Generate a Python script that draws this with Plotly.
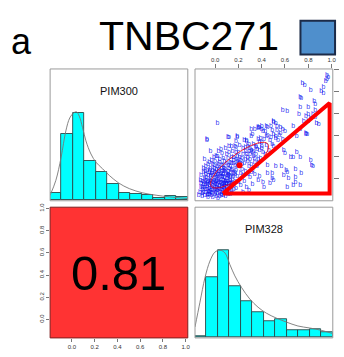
import plotly.graph_objects as go
import numpy as np

# ---------------- data ----------------
title_text = "TNBC271"
panel_letter = "a"
var_names = ["PIM300", "PIM328"]
correlation = 0.81

# histogram bar heights (12 equal bins across each diagonal panel)
pim300_counts = [20, 198, 264, 118, 85, 46, 21, 16, 14, 5, 10, 7]
pim328_counts = [4, 182, 264, 157, 111, 77, 51, 57, 23, 23, 26, 15]

# density curves (bin units, same height units as bars)
pim300_dens_u = [0, 0.5, 0.96, 1.37, 1.72, 2.1, 2.3, 2.54, 2.83, 3.12, 3.56, 4.0, 4.58, 5.16, 5.98, 6.9, 8.08, 9.24, 10.4, 12]
pim300_dens_h = [13, 58, 128, 208, 248, 264, 266, 253, 218, 178, 138, 113, 93, 73, 50, 33, 20, 13, 8, 3]
pim328_dens_u = [0, 0.43, 0.87, 1.3, 1.73, 2.17, 2.6, 3.03, 3.47, 4.05, 4.77, 5.49, 6.21, 7.08, 7.95, 8.96, 9.97, 10.98, 12]
pim328_dens_h = [32, 107, 182, 232, 259, 265, 257, 222, 187, 152, 117, 92, 74, 59, 47, 35, 29, 22, 12]

# scatter points (PIM328, PIM300)
scatter_points = [
    # upper right tail
    (0.96, 0.95), (0.97, 0.93), (0.96, 0.91), (0.95, 0.89), (0.75, 0.87), (0.77, 0.86), (0.82, 0.81),
    (0.93, 0.84), (0.91, 0.80), (0.93, 0.78), (0.74, 0.74), (0.73, 0.75), (0.85, 0.71), (0.86, 0.68),
    (0.58, 0.63), (0.62, 0.62), (0.73, 0.65), (0.80, 0.65), (0.86, 0.63), (0.72, 0.59), (0.78, 0.57),
    (0.84, 0.59), (0.86, 0.56), (0.80, 0.53), (0.87, 0.51), (0.80, 0.59), (0.82, 0.55), (0.89, 0.50),
    (0.76, 0.53), (0.50, 0.52), (0.52, 0.51), (0.56, 0.47), (0.53, 0.48), (0.45, 0.47), (0.48, 0.48),
    (0.58, 0.45), (0.43, 0.43), (0.67, 0.48), (0.60, 0.43), (0.78, 0.42), (0.73, 0.45), (0.02, 0.51),
    (0.31, 0.45), (0.37, 0.46), (0.40, 0.48), (0.41, 0.43), (0.37, 0.47), (0.44, 0.48), (0.50, 0.53),
    (0.70, 0.39), (0.79, 0.41), (0.78, 0.41), (0.40, 0.45), (0.49, 0.44), (0.52, 0.39), (0.44, 0.39),
    (0.34, 0.45), (0.32, 0.41), (0.37, 0.36), (0.29, 0.32), (0.54, 0.35), (0.40, 0.30), (0.38, 0.47),
    # upper band above cluster
    (-0.07, 0.35), (-0.07, 0.36), (0.11, 0.38), (0.12, 0.38), (0.19, 0.38), (0.19, 0.39), (0.27, 0.35),
    (0.31, 0.39), (0.12, 0.30), (0.18, 0.29), (0.26, 0.29), (0.01, 0.21), (0.58, 0.36), (0.48, 0.38),
    (0.50, 0.30),
    # along hypotenuse
    (0.35, 0.30), (0.38, 0.33), (0.42, 0.36), (0.45, 0.40), (0.40, 0.28), (0.33, 0.25), (0.30, 0.22),
    (0.36, 0.27), (0.44, 0.31), (0.47, 0.35), (0.50, 0.41), (0.53, 0.44), (0.55, 0.40), (0.39, 0.37),
    (0.41, 0.24), (0.34, 0.19), (0.28, 0.16), (0.31, 0.13), (0.37, 0.18), (0.43, 0.22), (0.46, 0.26),
    (0.49, 0.32), (0.52, 0.37), (0.56, 0.42),
    # inside triangle
    (0.59, 0.26), (0.67, 0.20), (0.70, 0.24), (0.82, 0.17), (0.83, 0.12), (0.57, 0.11), (0.62, 0.06),
    (0.69, 0.01), (0.74, 0.05), (0.67, -0.06), (0.60, 0.23), (0.65, 0.20), (0.73, 0.20), (0.84, 0.11),
    (0.69, 0.09), (0.61, 0.08), (0.52, 0.11), (0.45, 0.12), (0.49, 0.05), (0.45, 0.05), (0.59, 0.03),
    (0.63, 0.00), (0.69, -0.03), (0.73, -0.06), (0.62, -0.08), (0.49, 0.00), (0.50, -0.01),
    (0.42, -0.075), (0.47, -0.04), (0.37, -0.01), (0.30, 0.01), (0.34, 0.04), (0.38, 0.02), (0.41, -0.03),
    # dense cluster
    (-0.14, -0.15), (-0.11, -0.10), (-0.12, 0.03), (-0.10, -0.12), (-0.05, -0.14),
    (-0.10, -0.05), (-0.08, -0.12), (-0.06, -0.02), (-0.05, -0.09), (-0.04, 0.02), (-0.03, -0.15),
    (-0.02, -0.06), (-0.01, -0.11), (0.00, 0.00), (0.01, -0.08), (0.02, -0.13), (0.03, -0.03),
    (0.04, 0.04), (0.05, -0.10), (0.06, -0.05), (0.07, -0.15), (0.08, 0.01), (0.09, -0.07),
    (0.10, -0.12), (0.11, -0.02), (0.12, 0.03), (0.13, -0.09), (0.14, -0.04), (0.15, 0.01),
    (-0.09, 0.00), (-0.07, -0.07), (-0.06, -0.14), (-0.04, -0.04), (-0.03, 0.05), (-0.01, -0.01),
    (0.00, -0.14), (0.01, 0.06), (0.02, -0.04), (0.03, -0.10), (0.05, 0.02), (0.06, -0.12),
    (0.07, -0.01), (0.08, -0.09), (0.09, 0.05), (0.10, -0.04), (0.11, -0.14), (0.12, -0.07),
    (0.13, 0.06), (0.14, -0.11), (-0.08, 0.04), (-0.05, -0.12), (-0.02, 0.08), (-0.02, -0.17),
    (0.00, -0.05), (0.02, 0.02), (0.04, -0.07), (0.04, -0.16), (0.06, 0.07), (0.08, -0.04),
    (0.09, -0.13), (0.11, 0.02), (0.13, -0.01), (0.15, -0.06), (0.16, -0.10), (0.17, 0.04),
    (-0.07, 0.08), (-0.04, 0.10), (-0.01, 0.12), (0.01, 0.09), (0.03, 0.13), (0.05, 0.10),
    (0.07, 0.12), (0.09, 0.09), (0.10, 0.14), (0.12, 0.10), (-0.06, 0.13), (0.00, 0.16),
    (0.04, 0.18), (0.08, 0.16), (0.02, 0.21), (0.06, 0.23), (-0.03, 0.17), (0.11, 0.19),
    (-0.09, -0.08), (-0.07, -0.03), (-0.03, -0.08), (0.01, -0.02), (0.03, 0.07), (0.05, -0.03),
    (0.07, 0.04), (0.10, 0.00), (-0.05, 0.06), (0.00, 0.04), (0.06, 0.01), (0.08, -0.12),
    (-0.12, -0.08), (-0.11, -0.02), (-0.10, 0.06), (-0.09, -0.15), (-0.08, -0.01), (-0.07, -0.10),
    (-0.06, 0.03), (-0.05, -0.06), (-0.04, -0.11), (-0.03, -0.02), (-0.02, 0.03), (-0.01, -0.07),
    (0.00, -0.10), (0.01, 0.01), (0.02, -0.09), (0.03, 0.00), (0.04, -0.12), (0.05, 0.05),
    (0.06, -0.08), (0.07, -0.04), (0.08, 0.07), (0.09, -0.02), (0.10, -0.08), (0.11, 0.07),
    (0.12, -0.12), (0.13, 0.02), (0.14, 0.08), (0.15, -0.03), (0.16, 0.05), (0.17, -0.02),
    (-0.08, 0.11), (-0.05, 0.15), (-0.02, 0.13), (0.02, 0.11), (0.04, 0.15), (0.06, 0.12),
    (0.08, 0.10), (0.11, 0.12), (0.13, 0.15), (0.16, 0.14), (0.18, 0.18), (0.20, 0.14),
    (0.19, 0.21), (0.14, 0.20), (0.10, 0.22), (0.07, 0.19), (0.03, 0.25), (-0.01, 0.20),
    (-0.13, -0.12), (-0.11, -0.16), (-0.06, -0.17), (0.01, -0.16), (0.05, -0.14), (0.09, -0.16),
    (0.13, -0.14), (-0.10, 0.10), (-0.09, 0.18), (-0.04, 0.25), (-0.12, -0.04), (-0.08, -0.05),
    (-0.04, -0.01), (0.00, -0.03), (0.04, -0.01), (0.08, -0.06), (0.12, -0.04), (0.15, -0.13),
    (-0.11, -0.13), (-0.095, -0.03), (-0.085, -0.095), (-0.075, 0.01), (-0.065, -0.055), (-0.055, -0.115),
    (-0.045, -0.025), (-0.035, 0.035), (-0.025, -0.095), (-0.015, -0.035), (-0.005, 0.055), (0.005, -0.125),
    (0.015, -0.055), (0.025, 0.045), (0.035, -0.085), (0.045, -0.035), (0.055, -0.155), (0.065, 0.025),
    (0.075, -0.075), (0.085, -0.025), (0.095, -0.105), (0.105, 0.035), (0.115, -0.055), (0.125, -0.015),
    (-0.105, -0.075), (-0.065, -0.155), (-0.025, -0.135), (0.015, -0.105), (0.055, -0.065), (0.095, -0.045),
    (-0.045, 0.075), (-0.005, 0.095), (0.035, 0.085), (0.075, 0.075), (0.115, 0.045), (0.155, 0.025),
    (-0.085, 0.065), (-0.125, -0.015), (0.025, -0.175), (-0.035, -0.125), (0.065, -0.105), (0.135, -0.065),
    # ellipse body
    (0.14, 0.14), (0.16, 0.20), (0.18, 0.08), (0.19, 0.16), (0.20, 0.24), (0.21, 0.11), (0.22, 0.05),
    (0.23, 0.19), (0.24, 0.28), (0.25, 0.14), (0.26, 0.07), (0.27, 0.22), (0.28, 0.30), (0.29, 0.11),
    (0.30, 0.18), (0.31, 0.26), (0.32, 0.08), (0.33, 0.32), (0.34, 0.15), (0.35, 0.22), (0.36, 0.11),
    (0.38, 0.26), (0.39, 0.19), (0.40, 0.33), (0.15, 0.25), (0.17, 0.30), (0.19, 0.02), (0.21, 0.31),
    (0.22, 0.17), (0.24, 0.03), (0.26, 0.18), (0.27, 0.34), (0.29, 0.25), (0.31, 0.06), (0.33, 0.21),
    (0.35, 0.29), (0.37, 0.14), (0.17, 0.12), (0.20, -0.03), (0.23, 0.09), (0.25, 0.35), (0.28, 0.04),
    (0.16, -0.05), (0.18, -0.09), (0.22, -0.06), (0.14, 0.30), (0.12, 0.24), (0.09, 0.28), (0.05, 0.27),
    (0.18, 0.34), (0.25, -0.02), (0.27, -0.08), (0.32, -0.05), (0.29, -0.11), (0.24, -0.12), (0.10, -0.12),
    (0.21, 0.20), (0.24, 0.22), (0.26, 0.25), (0.28, 0.20), (0.30, 0.28), (0.32, 0.24), (0.23, 0.13),
    (0.17, 0.06), (0.19, 0.11), (0.21, 0.15), (0.15, 0.09), (0.13, 0.11), (0.18, 0.24), (0.16, 0.17),
]
scatter_x = [p[0] for p in scatter_points]
scatter_y = [p[1] for p in scatter_points]

# correlation ellipse (psych-style): center, scale, r
ellipse_center = (0.21, 0.124)
ellipse_scale = (0.25, 0.21)

# highlight triangle vertices
triangle_x = [0.068, 0.983, 0.983, 0.068]
triangle_y = [-0.136, 0.694, -0.136, -0.136]

axis_ticks = [0.0, 0.2, 0.4, 0.6, 0.8, 1.0]
axis_tick_labels = ["0.0", "0.2", "0.4", "0.6", "0.8", "1.0"]

# ---------------- layout geometry ----------------
W, H = 344, 357
col1 = [50.7 / W, 190 / W]
col2 = [197.3 / W, 336.7 / W]
row1 = [1 - 199 / H, 1 - 65.7 / H]
row2 = [1 - 337.7 / H, 1 - 205.5 / H]

FONT = "Liberation Sans, Arial, sans-serif"
tickfont = dict(family=FONT, size=6, color="#333")

fig = go.Figure()

# histograms
nb = len(pim300_counts)
edges = np.linspace(0, nb, nb + 1)
centers = (edges[:-1] + edges[1:]) / 2
bar_style = dict(marker=dict(color="#00FFFF", line=dict(color="#2a4a4a", width=0.9)), width=1.0, showlegend=False, hoverinfo="skip")
fig.add_trace(go.Bar(x=centers, y=pim300_counts, xaxis="x", yaxis="y", **bar_style))
fig.add_trace(go.Bar(x=centers, y=pim328_counts, xaxis="x4", yaxis="y4", **bar_style))
fig.add_trace(go.Scatter(x=pim300_dens_u, y=pim300_dens_h, mode="lines", line=dict(color="#777", width=0.9, shape="spline"),
                         xaxis="x", yaxis="y", showlegend=False, hoverinfo="skip"))
fig.add_trace(go.Scatter(x=pim328_dens_u, y=pim328_dens_h, mode="lines", line=dict(color="#777", width=0.9, shape="spline"),
                         xaxis="x4", yaxis="y4", showlegend=False, hoverinfo="skip"))

# scatter of 'b' glyphs
fig.add_trace(go.Scatter(x=scatter_x, y=scatter_y, mode="text", text=["b"] * len(scatter_x),
                         textfont=dict(family=FONT, size=7, color="rgba(10,10,240,0.85)"),
                         xaxis="x2", yaxis="y2", showlegend=False, hoverinfo="skip"))

# ellipse
ang = np.linspace(0, 2 * np.pi, 101)
th = 1 / np.sqrt(2)
r = correlation
ex = (np.cos(ang) * np.sqrt(1 + r) * th - np.sin(ang) * np.sqrt(1 - r) * th) * ellipse_scale[0] + ellipse_center[0]
ey = (np.cos(ang) * np.sqrt(1 + r) * th + np.sin(ang) * np.sqrt(1 - r) * th) * ellipse_scale[1] + ellipse_center[1]
fig.add_trace(go.Scatter(x=ex, y=ey, mode="lines", line=dict(color="red", width=0.8),
                         xaxis="x2", yaxis="y2", showlegend=False, hoverinfo="skip"))
fig.add_trace(go.Scatter(x=[ellipse_center[0]], y=[ellipse_center[1]], mode="markers",
                         marker=dict(color="red", size=6), xaxis="x2", yaxis="y2", showlegend=False, hoverinfo="skip"))

# triangle
fig.add_trace(go.Scatter(x=triangle_x, y=triangle_y, mode="lines", line=dict(color="#FF0000", width=4),
                         xaxis="x2", yaxis="y2", showlegend=False, hoverinfo="skip"))

# invisible trace for red panel axes
fig.add_trace(go.Scatter(x=[0.5], y=[0.5], mode="markers", marker=dict(opacity=0), xaxis="x3", yaxis="y3",
                         showlegend=False, hoverinfo="skip"))

hidden = dict(showgrid=False, zeroline=False, showline=False, showticklabels=False, ticks="")
fig.update_layout(
    width=W, height=H, margin=dict(l=0, r=0, t=0, b=0),
    paper_bgcolor="white", plot_bgcolor="white", bargap=0,
    xaxis=dict(domain=col1, range=[0, nb], anchor="y", **hidden),
    yaxis=dict(domain=row1, range=[-3.9, 396.1], anchor="x", **hidden),
    xaxis2=dict(domain=col2, range=[-0.172, 1.01], anchor="y2", side="top", showgrid=False, zeroline=False,
                ticks="outside", ticklen=4, tickcolor="#777", tickwidth=1, tickvals=axis_ticks,
                ticktext=axis_tick_labels, tickfont=tickfont),
    yaxis2=dict(domain=row1, range=[-0.202, 1.005], anchor="x2", side="right", showgrid=False, zeroline=False,
                ticks="outside", ticklen=5, tickcolor="#777", tickwidth=1, tickvals=axis_ticks,
                showticklabels=False),
    xaxis3=dict(domain=col1, range=[-0.191, 1.019], anchor="y3", showgrid=False, zeroline=False,
                ticks="outside", ticklen=3, tickcolor="#777", tickwidth=1, tickvals=axis_ticks,
                ticktext=axis_tick_labels, tickfont=tickfont),
    yaxis3=dict(domain=row2, range=[-0.166, 1.011], anchor="x3", showgrid=False, zeroline=False,
                ticks="outside", ticklen=3, tickcolor="#777", tickwidth=1, tickvals=axis_ticks,
                ticktext=axis_tick_labels, tickfont=tickfont, tickangle=-90),
    xaxis4=dict(domain=col2, range=[0, nb], anchor="y4", **hidden),
    yaxis4=dict(domain=row2, range=[-1.2, 395.4], anchor="x4", **hidden),
)

frame = dict(color="#9a9a9a", width=1)
shapes = [
    dict(type="rect", xref="x domain", yref="y domain", x0=0, x1=1, y0=0, y1=1, line=frame, layer="above"),
    dict(type="rect", xref="x2 domain", yref="y2 domain", x0=0, x1=1, y0=0, y1=1, line=frame, layer="above"),
    dict(type="rect", xref="x4 domain", yref="y4 domain", x0=0, x1=1, y0=0, y1=1, line=frame, layer="above"),
    dict(type="rect", xref="x3 domain", yref="y3 domain", x0=0, x1=1, y0=0, y1=1,
         fillcolor="#FF3333", line=dict(color="#7f1f1f", width=1), layer="below"),
    dict(type="rect", xref="paper", yref="paper", x0=304 / W, x1=339 / W, y0=1 - 51 / H, y1=1 - 17 / H,
         fillcolor="#4f8fcc", line=dict(color="#1c2b48", width=2)),
]
annotations = [
    dict(text=title_text, xref="paper", yref="paper", x=191 / W, y=1 - 32 / H, xanchor="center", yanchor="middle",
         showarrow=False, font=dict(family=FONT, size=41, color="black")),
    dict(text=panel_letter, xref="paper", yref="paper", x=21.5 / W, y=1 - 38 / H, xanchor="center", yanchor="middle",
         showarrow=False, font=dict(family=FONT, size=36, color="black")),
    dict(text=f"{correlation:.2f}", xref="x3 domain", yref="y3 domain", x=0.5, y=0.5, xanchor="center",
         yanchor="middle", showarrow=False, font=dict(family=FONT, size=49, color="black")),
    dict(text=var_names[0], xref="x domain", yref="y domain", x=0.5, y=0.835, xanchor="center", yanchor="middle",
         showarrow=False, font=dict(family=FONT, size=11, color="#111")),
    dict(text=var_names[1], xref="x4 domain", yref="y4 domain", x=0.5, y=0.83, xanchor="center", yanchor="middle",
         showarrow=False, font=dict(family=FONT, size=11, color="#111")),
]
fig.update_layout(shapes=shapes, annotations=annotations)

fig.write_html("out.html")
